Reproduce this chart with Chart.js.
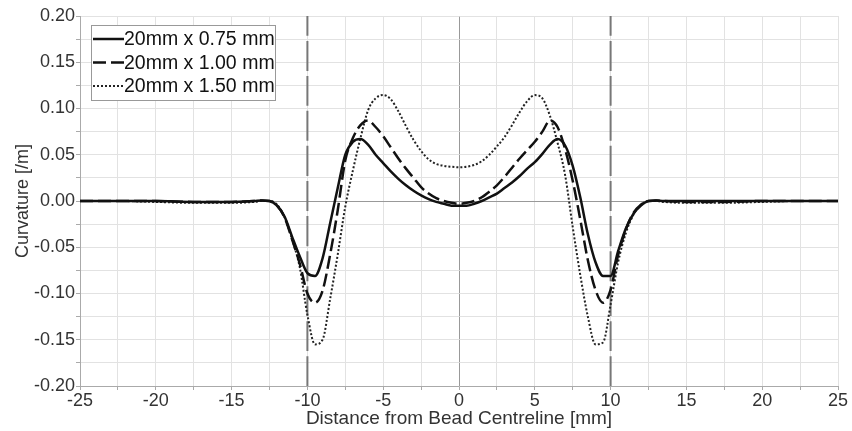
<!DOCTYPE html>
<html>
<head>
<meta charset="utf-8">
<script src="https://cdn.jsdelivr.net/npm/chart.js@4.4.1/dist/chart.umd.min.js"></script>
<style>
  html, body { margin: 0; padding: 0; background: #fff; }
  #c { display: block; }
</style>
</head>
<body>
<canvas id="c" width="852" height="431"></canvas>
<script>
// distância do centro do cordão (mm)
const posicoes = [-25, -22.5, -20, -17.5, -15, -13.5, -13, -12.5, -12, -11.5, -11, -10.5, -10, -9.5, -9, -8.5, -8, -7.5, -7, -6.5, -6, -5.5, -5, -4.5, -4, -3.5, -3, -2.5, -2, -1.5, -1, -0.5, 0,
  0.5, 1, 1.5, 2, 2.5, 3, 3.5, 4, 4.5, 5, 5.5, 6, 6.5, 7, 7.5, 8, 8.5, 9, 9.5, 10, 10.5, 11, 11.5, 12, 12.5, 13, 13.5, 15, 17.5, 20, 22.5, 25];

// curvatura [/m] de cada espessura
const curv075 = [0, 0, 0, -0.001, -0.001, 0, 0.0005, 0, -0.005, -0.017, -0.039, -0.060, -0.078, -0.081, -0.062, -0.024, 0.014, 0.050, 0.064, 0.067, 0.061, 0.050, 0.041, 0.032, 0.024, 0.017, 0.011, 0.006, 0.002, -0.001, -0.003, -0.005, -0.005,
  -0.005, -0.003, 0.000, 0.004, 0.008, 0.014, 0.020, 0.027, 0.035, 0.042, 0.051, 0.061, 0.067, 0.060, 0.038, 0.004, -0.036, -0.066, -0.081, -0.081, -0.054, -0.030, -0.014, -0.005, 0, 0.0005, 0, 0, 0, 0, 0, 0];

const curv100 = [0, 0, 0, -0.001, -0.001, 0, 0.0005, 0, -0.005, -0.018, -0.042, -0.068, -0.100, -0.110, -0.097, -0.058, -0.010, 0.044, 0.068, 0.082, 0.087, 0.080, 0.070, 0.058, 0.046, 0.035, 0.025, 0.015, 0.008, 0.003, 0.000, -0.002, -0.003,
  -0.002, 0.000, 0.004, 0.010, 0.017, 0.026, 0.036, 0.046, 0.055, 0.064, 0.075, 0.087, 0.080, 0.056, 0.022, -0.020, -0.064, -0.096, -0.110, -0.096, -0.058, -0.031, -0.013, -0.004, 0, 0.0005, 0, -0.001, -0.001, 0, 0, 0];

const curv150 = [0, 0, -0.001, -0.002, -0.002, -0.001, 0, 0, -0.004, -0.018, -0.042, -0.072, -0.123, -0.155, -0.150, -0.106, -0.058, -0.006, 0.033, 0.068, 0.098, 0.111, 0.1145, 0.110, 0.097, 0.081, 0.066, 0.054, 0.045, 0.040, 0.038, 0.037, 0.0365,
  0.037, 0.039, 0.043, 0.050, 0.059, 0.069, 0.082, 0.096, 0.108, 0.1145, 0.111, 0.092, 0.063, 0.028, -0.028, -0.080, -0.125, -0.155, -0.153, -0.112, -0.066, -0.035, -0.015, -0.004, 0, 0, -0.001, -0.002, -0.002, -0.001, 0, 0];

const legendas = ['20mm x 0.75 mm', '20mm x 1.00 mm', '20mm x 1.50 mm'];
const limitesCordao = [-10, 10];

function pontos(ys) {
  return posicoes.map((x, i) => ({ x: x, y: ys[i] }));
}

const fonte = "'Liberation Sans', Arial, sans-serif";

// Legenda desenhada dentro da área do gráfico
const legendaInterna = {
  id: 'legendaInterna',
  afterDraw(chart) {
    const ctx = chart.ctx;
    const area = chart.chartArea;
    const x0 = area.left + 11, y0 = area.top + 9;
    const w = 184, h = 75;
    ctx.save();
    ctx.fillStyle = '#fff';
    ctx.fillRect(x0, y0, w, h);
    ctx.strokeStyle = '#999';
    ctx.lineWidth = 1;
    ctx.strokeRect(x0 + 0.5, y0 + 0.5, w, h);
    ctx.font = '19.5px ' + fonte;
    ctx.textBaseline = 'middle';
    ctx.fillStyle = '#111';
    for (let i = 0; i < 3; i++) {
      const ds = chart.data.datasets[i];
      const y = y0 + 14 + i * 23.5;
      ctx.beginPath();
      ctx.setLineDash(ds.borderDash || []);
      ctx.strokeStyle = ds.borderColor;
      ctx.lineWidth = ds.borderWidth;
      ctx.moveTo(x0 + 2, y);
      ctx.lineTo(x0 + 33, y);
      ctx.stroke();
      ctx.setLineDash([]);
      ctx.fillText(ds.label, x0 + 33, y + 1);
    }
    ctx.restore();
  }
};

const datasets = [
  { label: legendas[0], data: pontos(curv075), borderColor: '#111', borderWidth: 2.5 },
  { label: legendas[1], data: pontos(curv100), borderColor: '#111', borderWidth: 2.5, borderDash: [13, 5] },
  { label: legendas[2], data: pontos(curv150), borderColor: '#222', borderWidth: 2, borderDash: [2, 2] }
];
limitesCordao.forEach(x => {
  datasets.push({ label: '', data: [{ x: x, y: -0.2 }, { x: x, y: 0.2 }], borderColor: '#777', borderWidth: 2, borderDash: [30, 5] });
});

new Chart(document.getElementById('c'), {
  type: 'line',
  data: { datasets: datasets },
  options: {
    responsive: false,
    devicePixelRatio: 1,
    animation: false,
    cubicInterpolationMode: 'monotone',
    elements: { point: { radius: 0 }, line: { fill: false } },
    layout: { padding: { left: 0, right: 14, top: 16, bottom: 0 } },
    plugins: { legend: { display: false }, tooltip: { enabled: false } },
    scales: {
      x: {
        type: 'linear',
        min: -25, max: 25,
        afterFit(scale) { scale.height = 45; },
        ticks: {
          stepSize: 2.5, autoSkip: false, maxRotation: 0, padding: 0,
          color: '#333', font: { family: fonte, size: 18 },
          callback: v => (Math.abs(v % 5) < 1e-9 ? String(v) : '')
        },
        grid: {
          color: ctx => (ctx.tick && ctx.tick.value === 0 ? '#999' : '#e2e2e2'),
          tickLength: 4, tickColor: '#aaa'
        },
        border: { color: '#aaa' },
        title: { display: true, text: 'Distance from Bead Centreline [mm]', color: '#333', font: { family: fonte, size: 19 }, padding: { top: 0, bottom: 1 } }
      },
      y: {
        min: -0.2, max: 0.2,
        afterFit(scale) { scale.width = 80; },
        ticks: {
          stepSize: 0.025, autoSkip: false, padding: 1,
          color: '#333', font: { family: fonte, size: 18 },
          callback: v => (Math.abs(Math.round(v * 1000) % 50) === 0 ? v.toFixed(2) : '')
        },
        grid: {
          color: ctx => (ctx.tick && Math.abs(ctx.tick.value) < 1e-9 ? '#999' : '#e2e2e2'),
          tickLength: 4, tickColor: '#aaa'
        },
        border: { color: '#aaa' },
        title: { display: true, text: 'Curvature [/m]', color: '#333', font: { family: fonte, size: 18 }, padding: { top: 12, bottom: 0 } }
      }
    }
  },
  plugins: [legendaInterna]
});
</script>
</body>
</html>
